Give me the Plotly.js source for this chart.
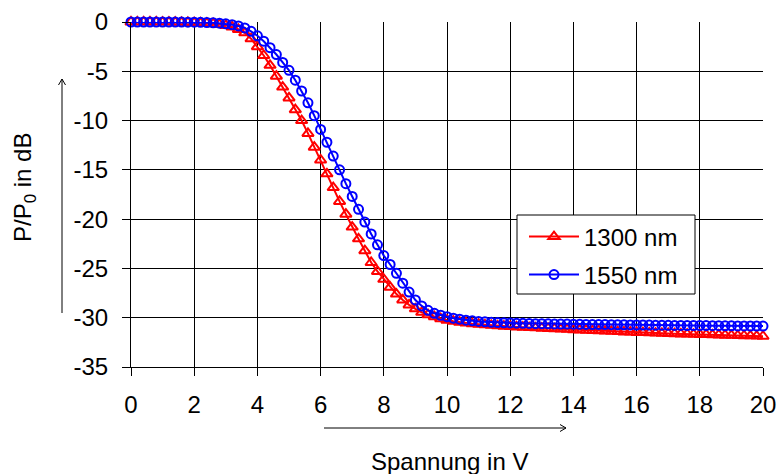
<!DOCTYPE html>
<html>
<head>
<meta charset="utf-8">
<script src="https://cdn.plot.ly/plotly-3.0.1.min.js"></script>
<style>html,body{margin:0;padding:0;background:#fff;}#chart{width:777px;height:474px;}</style>
</head>
<body>
<div id="chart"></div>
<script>
// Voltage (V)
var voltage = [0,0.2,0.4,0.6,0.8,1,1.2,1.4,1.6,1.8,2,2.2,2.4,2.6,2.8,3,3.2,3.4,3.6,3.8,4,4.2,4.4,4.6,4.8,5,5.2,5.4,5.6,5.8,6,6.2,6.4,6.6,6.8,7,7.2,7.4,7.6,7.8,8,8.2,8.4,8.6,8.8,9,9.2,9.4,9.6,9.8,10,10.2,10.4,10.6,10.8,11,11.2,11.4,11.6,11.8,12,12.2,12.4,12.6,12.8,13,13.2,13.4,13.6,13.8,14,14.2,14.4,14.6,14.8,15,15.2,15.4,15.6,15.8,16,16.2,16.4,16.6,16.8,17,17.2,17.4,17.6,17.8,18,18.2,18.4,18.6,18.8,19,19.2,19.4,19.6,19.8,20];

// P/P0 in dB, 1300 nm
var nm1300 = [0,0,0,0,0,-0.01,-0.01,-0.02,-0.03,-0.04,-0.06,-0.08,-0.12,-0.17,-0.25,-0.35,-0.5,-0.75,-1.1,-1.7,-2.5,-3.4,-4.4,-5.5,-6.6,-7.7,-8.9,-10.0,-11.3,-12.7,-14.0,-15.4,-16.8,-18.2,-19.5,-20.8,-22.0,-23.2,-24.4,-25.3,-26.1,-26.9,-27.6,-28.2,-28.7,-29.1,-29.45,-29.7,-29.9,-30.1,-30.25,-30.35,-30.45,-30.53,-30.6,-30.66,-30.72,-30.77,-30.82,-30.86,-30.9,
  -30.93,-30.96,-31.0,-31.03,-31.06,-31.09,-31.12,-31.15,-31.18,-31.21,-31.24,-31.27,-31.3,-31.32,-31.35,-31.38,-31.41,-31.44,-31.46,-31.49,-31.51,-31.53,-31.56,-31.58,-31.6,-31.62,-31.64,-31.66,-31.68,-31.7,-31.71,-31.73,-31.75,-31.77,-31.79,-31.81,-31.83,-31.84,-31.86,-31.88];

// P/P0 in dB, 1550 nm
var nm1550 = [0,0,0,0,0,0,-0.01,-0.01,-0.01,-0.02,-0.02,-0.03,-0.05,-0.08,-0.12,-0.18,-0.27,-0.4,-0.6,-0.95,-1.4,-1.95,-2.6,-3.3,-4.1,-4.9,-5.9,-7.0,-8.2,-9.5,-10.9,-12.2,-13.6,-15.0,-16.4,-17.7,-19.0,-20.3,-21.5,-22.6,-23.7,-24.6,-25.5,-26.5,-27.4,-28.2,-28.8,-29.25,-29.55,-29.75,-29.9,-30.05,-30.15,-30.25,-30.32,-30.38,-30.42,-30.46,-30.49,-30.51,-30.53,
  -30.55,-30.57,-30.58,-30.6,-30.61,-30.62,-30.63,-30.64,-30.65,-30.66,-30.67,-30.68,-30.69,-30.7,-30.7,-30.71,-30.72,-30.72,-30.73,-30.74,-30.74,-30.75,-30.76,-30.76,-30.77,-30.78,-30.78,-30.79,-30.79,-30.8,-30.8,-30.81,-30.81,-30.82,-30.82,-30.83,-30.83,-30.84,-30.84,-30.85];

var seriesNames = ["1300 nm", "1550 nm"];
var xTickVals = [0,2,4,6,8,10,12,14,16,18,20];
var xTickText = ["0","2","4","6","8","10","12","14","16","18","20"];
var yTickVals = [0,-5,-10,-15,-20,-25,-30,-35];
var yTickText = ["0","-5","-10","-15","-20","-25","-30","-35"];

var FONT = "Liberation Sans, Arial, sans-serif";
var FS = 24;

var traces = [
  {x: voltage, y: nm1300, name: seriesNames[0], type: "scatter", mode: "lines+markers",
   cliponaxis: false,
   line: {color: "#ff0000", width: 2},
   marker: {symbol: "triangle-up-open", size: 10, color: "#ff0000", line: {width: 2, color: "#ff0000"}},
   legend: "legend"},
  {x: voltage, y: nm1550, name: seriesNames[1], type: "scatter", mode: "lines+markers",
   cliponaxis: false,
   line: {color: "#0000ff", width: 2},
   marker: {symbol: "circle-open", size: 9, color: "#0000ff", line: {width: 2, color: "#0000ff"}},
   legend: "legend2"}
];

function px2x(p){ return (p - 131) / 632; }
function px2y(p){ return (367 - p) / 345; }

var layout = {
  width: 777, height: 474,
  margin: {l: 131, r: 14, t: 22, b: 107},
  paper_bgcolor: "#ffffff", plot_bgcolor: "#ffffff",
  font: {family: FONT, size: FS, color: "#000"},
  showlegend: true,
  xaxis: {
    range: [0, 20], tickmode: "array", tickvals: xTickVals, ticktext: xTickText,
    showgrid: true, gridcolor: "#000", gridwidth: 1,
    showline: true, linecolor: "#000", linewidth: 1,
    ticks: "outside", ticklen: 8, tickcolor: "#000",
    zeroline: false, ticklabelstandoff: 8,
    tickfont: {family: FONT, size: FS, color: "#000"}
  },
  yaxis: {
    range: [-35, 0], tickmode: "array", tickvals: yTickVals, ticktext: yTickText,
    showgrid: true, gridcolor: "#000", gridwidth: 1,
    showline: true, linecolor: "#000", linewidth: 1,
    ticks: "outside", ticklen: 8, tickcolor: "#000",
    zeroline: false, ticklabelstandoff: 9,
    tickfont: {family: FONT, size: FS, color: "#000"}
  },
  legend: {
    x: px2x(524), y: px2y(237), xanchor: "left", yanchor: "middle",
    bgcolor: "rgba(0,0,0,0)", borderwidth: 0,
    font: {family: FONT, size: FS, color: "#000"}, itemwidth: 50
  },
  legend2: {
    x: px2x(524), y: px2y(275), xanchor: "left", yanchor: "middle",
    bgcolor: "rgba(0,0,0,0)", borderwidth: 0,
    font: {family: FONT, size: FS, color: "#000"}, itemwidth: 50
  },
  shapes: [
    // legend box
    {type: "rect", xref: "paper", yref: "paper", x0: px2x(517), x1: px2x(695), y0: px2y(294), y1: px2y(215),
     line: {color: "#000", width: 1}, fillcolor: "#fff", layer: "above"},
    // y-axis arrow
    {type: "line", xref: "paper", yref: "paper", x0: px2x(62), x1: px2x(62), y0: px2y(313), y1: px2y(79), line: {color: "#000", width: 1}},
    {type: "line", xref: "paper", yref: "paper", x0: px2x(62), x1: px2x(58.5), y0: px2y(79), y1: px2y(85), line: {color: "#000", width: 1}},
    {type: "line", xref: "paper", yref: "paper", x0: px2x(62), x1: px2x(65.5), y0: px2y(79), y1: px2y(85), line: {color: "#000", width: 1}},
    // x-axis arrow
    {type: "line", xref: "paper", yref: "paper", x0: px2x(324), x1: px2x(566), y0: px2y(428), y1: px2y(428), line: {color: "#000", width: 1}},
    {type: "line", xref: "paper", yref: "paper", x0: px2x(566), x1: px2x(560), y0: px2y(428), y1: px2y(424.5), line: {color: "#000", width: 1}},
    {type: "line", xref: "paper", yref: "paper", x0: px2x(566), x1: px2x(560), y0: px2y(428), y1: px2y(431.5), line: {color: "#000", width: 1}}
  ],
  annotations: [
    {text: "P/P<sub>0</sub> in dB", xref: "paper", yref: "paper", x: px2x(24), y: px2y(188),
     xanchor: "center", yanchor: "middle", textangle: -90, showarrow: false,
     font: {family: FONT, size: FS, color: "#000"}},
    {text: "Spannung in V", xref: "paper", yref: "paper", x: px2x(449), y: px2y(462),
     xanchor: "center", yanchor: "middle", showarrow: false,
     font: {family: FONT, size: FS, color: "#000"}}
  ]
};

Plotly.newPlot("chart", traces, layout, {displayModeBar: false, staticPlot: true});
</script>
</body>
</html>
